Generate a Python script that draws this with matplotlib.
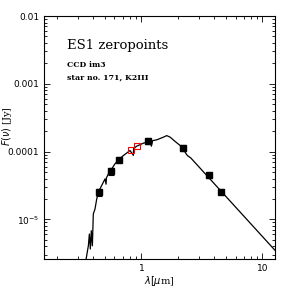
import matplotlib
matplotlib.use("Agg")
import matplotlib.pyplot as plt
from matplotlib.ticker import FixedLocator, FixedFormatter, LogLocator, NullFormatter

# model spectrum (wavelength in micron, flux in Jy)
model_wl = [0.349, 0.365, 0.372, 0.379, 0.386, 0.394, 0.401, 0.414, 0.428, 0.447,
            0.470, 0.501, 0.511, 0.515, 0.534, 0.569, 0.605, 0.645, 0.710, 0.806,
            0.859, 0.862, 0.914, 1.04, 1.18, 1.21, 1.24, 1.34, 1.52, 1.62, 1.73, 1.90,
            2.09, 2.25, 2.40, 2.56, 12.8]
model_flux = [2.54e-6, 4.08e-6, 6.07e-6, 3.65e-6, 6.8e-6, 4.08e-6, 1.2e-5, 1.42e-5, 2.0e-5, 2.65e-5,
              3.15e-5, 3.95e-5, 3.3e-5, 4.1e-5, 4.68e-5, 5.55e-5, 6.58e-5, 7.53e-5, 8.73e-5, 1.035e-4,
              8.8e-5, 1.1e-4, 1.2e-4, 1.33e-4, 1.42e-4, 1.2e-4, 1.45e-4, 1.49e-4, 1.63e-4, 1.72e-4,
              1.63e-4, 1.41e-4, 1.23e-4, 1.035e-4, 8.73e-5, 8.05e-5, 3.44e-6]

# photometry
phot_wl = [0.445, 0.562, 0.654, 1.135, 2.21, 3.6, 4.56]
phot_flux = [2.5e-5, 5.1e-5, 7.6e-5, 1.44e-4, 1.13e-4, 4.5e-5, 2.57e-5]
phot_err_frac = [0.12, 0.12, 0.08, 0.1, 0.1, 0.08, 0.08]

# zeropoint points (red)
zp_wl = [0.822, 0.916]
zp_flux = [1.07e-4, 1.19e-4]

ytick_vals = [1e-5, 1e-4, 1e-3, 1e-2]
ytick_labels = [r"10$^{-5}$", "0.0001", "0.001", "0.01"]
xtick_vals = [1, 10]
xtick_labels = ["1", "10"]

fig = plt.figure(figsize=(2.91, 2.91), dpi=100)
ax = fig.add_axes([44/291, 1 - 259/291, (275-44)/291, (259-16)/291])
ax.set_xscale("log")
ax.set_yscale("log")
ax.set_xlim(0.157, 12.7)
ax.set_ylim(2.6e-6, 1e-2)

ax.plot(model_wl, model_flux, color="black", lw=0.9)
yerr = [[f * e for f, e in zip(phot_flux, phot_err_frac)],
        [f * e for f, e in zip(phot_flux, phot_err_frac)]]
ax.errorbar(phot_wl, phot_flux, yerr=yerr, fmt="s", color="black", ms=4,
            capsize=2, elinewidth=0.8, capthick=0.8)
ax.plot(zp_wl, zp_flux, "s", mfc="none", mec="red", ms=4, mew=0.8)

ax.yaxis.set_major_locator(FixedLocator(ytick_vals))
ax.yaxis.set_major_formatter(FixedFormatter(ytick_labels))
ax.yaxis.set_minor_locator(LogLocator(base=10, subs=range(2, 10)))
ax.yaxis.set_minor_formatter(NullFormatter())
ax.xaxis.set_major_locator(FixedLocator(xtick_vals))
ax.xaxis.set_major_formatter(FixedFormatter(xtick_labels))
ax.xaxis.set_minor_locator(LogLocator(base=10, subs=range(2, 10)))
ax.xaxis.set_minor_formatter(NullFormatter())

ax.tick_params(which="both", direction="in", top=True, right=True,
               labelsize=6.5, width=0.6)
ax.tick_params(which="major", length=4)
ax.tick_params(which="minor", length=2)
for s in ax.spines.values():
    s.set_linewidth(0.8)

ax.set_xlabel(r"$\lambda[\mu$m]", fontsize=7, labelpad=1, family="serif")
ax.set_ylabel(r"$F(\nu)$ [Jy]", fontsize=7, family="serif")
ax.yaxis.set_label_coords(-0.128, 0.545)

ax.text(0.1, 0.865, "ES1 zeropoints", transform=ax.transAxes, fontsize=9.5,
        family="DejaVu Serif")
ax.text(0.1, 0.79, "CCD im3", transform=ax.transAxes, fontsize=5.6,
        family="DejaVu Serif", weight="bold")
ax.text(0.1, 0.74, "star no. 171, K2III", transform=ax.transAxes, fontsize=5.6,
        family="DejaVu Serif", weight="bold")

fig.savefig("out.png", dpi=100)
